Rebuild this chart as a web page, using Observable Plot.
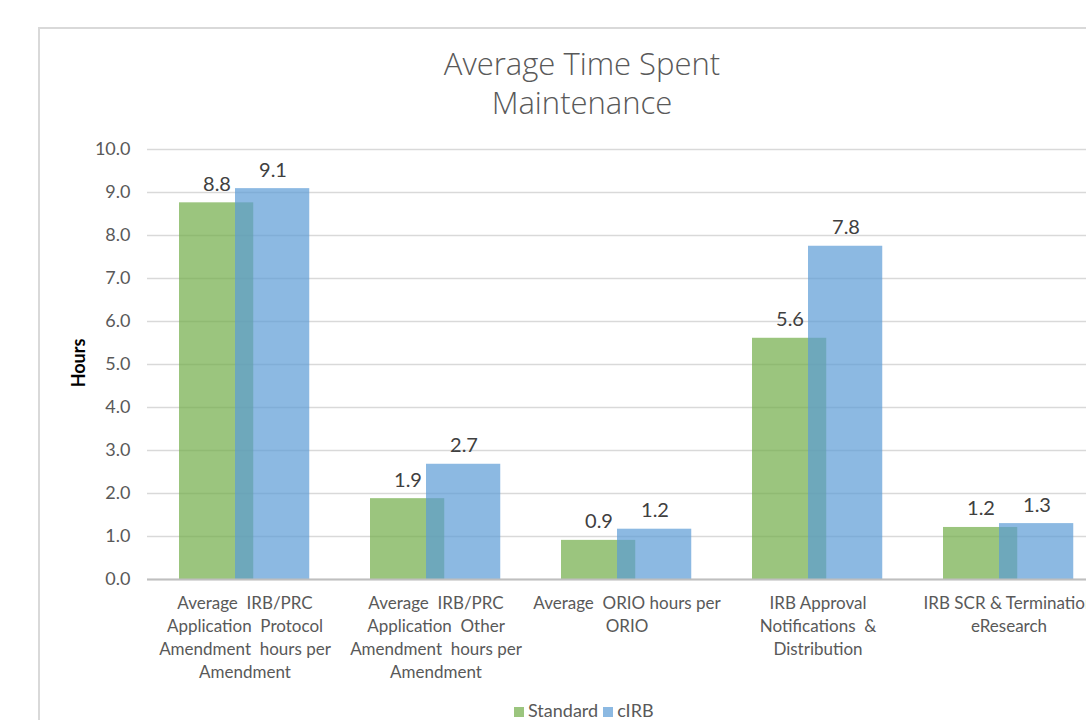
<!DOCTYPE html>
<html>
<head>
<meta charset="utf-8">
<script src="https://cdn.jsdelivr.net/npm/d3@7"></script>
<script src="https://cdn.jsdelivr.net/npm/@observablehq/plot@0.6"></script>
<style>
  html, body { margin: 0; padding: 0; background: #fff; }
  #wrap { position: relative; width: 1086px; height: 720px; overflow: hidden; font-family: Lato, "Liberation Sans", sans-serif; }
  #box { position: absolute; left: 38px; top: 27px; width: 1200px; height: 800px; border-left: 2px solid #d9d9d9; border-top: 2px solid #d9d9d9; box-sizing: border-box; }
  #title { position: absolute; left: 38px; width: 1088px; top: 44px; text-align: center; font-family: "Open Sans", Lato, sans-serif; font-weight: 300; font-size: 31px; line-height: 39px; color: #595959; }
  #chart { position: absolute; left: 0; top: 0; width: 1126px; }
  #chart svg { max-width: none !important; }
  #ylabel { position: absolute; left: 78px; top: 363px; transform: translate(-50%, -50%) rotate(-90deg); font-size: 18px; font-weight: 700; color: #000; white-space: nowrap; }
  #legend { position: absolute; left: 514px; top: 699px; font-size: 18px; line-height: 22px; color: #595959; white-space: nowrap; }
  .sw { display: inline-block; width: 10px; height: 10px; margin-right: 4px; vertical-align: 0px; }
</style>
</head>
<body>
<div id="wrap">
  <div id="box"></div>
  <div id="title">Average Time Spent<br>Maintenance</div>
  <div id="chart"></div>
  <div id="ylabel">Hours</div>
  <div id="legend"></div>
</div>
<script>
const categories = [
  "Average  IRB/PRC\nApplication  Protocol\nAmendment  hours per\nAmendment",
  "Average  IRB/PRC\nApplication  Other\nAmendment  hours per\nAmendment",
  "Average  ORIO hours per\nORIO",
  "IRB Approval\nNotifications  &\nDistribution",
  "IRB SCR & Termination\neResearch"
];
const standard = [8.76, 1.88, 0.91, 5.61, 1.21];
const cirb = [9.09, 2.68, 1.17, 7.75, 1.30];
const yTicks = [0, 1, 2, 3, 4, 5, 6, 7, 8, 9, 10];
const seriesNames = ["Standard", "cIRB"];
const seriesColors = ["#70ad47", "#5b9bd5"];

const green = categories.map((c, i) => ({cat: c, value: standard[i]}));
const blue = categories.map((c, i) => ({cat: c, value: cirb[i]}));
const fmt = d3.format(".1f");

const chart = Plot.plot({
  width: 1126,
  height: 690,
  marginLeft: 147,
  marginRight: 20.25,
  marginTop: 149,
  marginBottom: 111,
  style: {fontFamily: "Lato, 'Liberation Sans', sans-serif", background: "transparent", overflow: "visible", maxWidth: "none"},
  x: {domain: categories, padding: 0, axis: null},
  y: {domain: [0, 10], axis: null},
  marks: [
    Plot.gridY(yTicks, {stroke: "#d9d9d9", strokeOpacity: 1, strokeWidth: 1.5}),
    Plot.axisY(yTicks, {tickSize: 0, tickPadding: 17, tickFormat: fmt, fontSize: 18, fill: "#595959", label: null}),
    Plot.barY(green, {x: "cat", y: "value", fill: seriesColors[0], fillOpacity: 0.7, insetLeft: 30, insetRight: 86.75}),
    Plot.barY(blue, {x: "cat", y: "value", fill: seriesColors[1], fillOpacity: 0.7, insetLeft: 86, insetRight: 30.75}),
    Plot.ruleY([0], {stroke: "#bfbfbf", strokeWidth: 2}),
    Plot.text(green, {x: "cat", y: "value", text: d => fmt(d.value), dx: -28, dy: -12, lineAnchor: "bottom", fontSize: 20, fill: "#404040"}),
    Plot.text(blue, {x: "cat", y: "value", text: d => fmt(d.value), dx: 28, dy: -12, lineAnchor: "bottom", fontSize: 20, fill: "#404040"}),
    Plot.axisX({tickSize: 0, tickPadding: 13, fontSize: 17, fill: "#595959", lineHeight: 1.353, label: null, textOverflow: null, lineWidth: 100})
  ]
});
chart.querySelectorAll("text").forEach(t => t.setAttribute("xml:space", "preserve"));
chart.style.whiteSpace = "pre";
chart.style.maxWidth = "none";
chart.style.width = "1126px";
chart.style.height = "690px";
document.getElementById("chart").appendChild(chart);

const legend = document.getElementById("legend");
legend.innerHTML = seriesNames.map((n, i) =>
  `<span class="sw" style="background:${seriesColors[i]};opacity:0.7"></span><span style="margin-right:5px">${n}</span>`
).join("");
</script>
</body>
</html>
